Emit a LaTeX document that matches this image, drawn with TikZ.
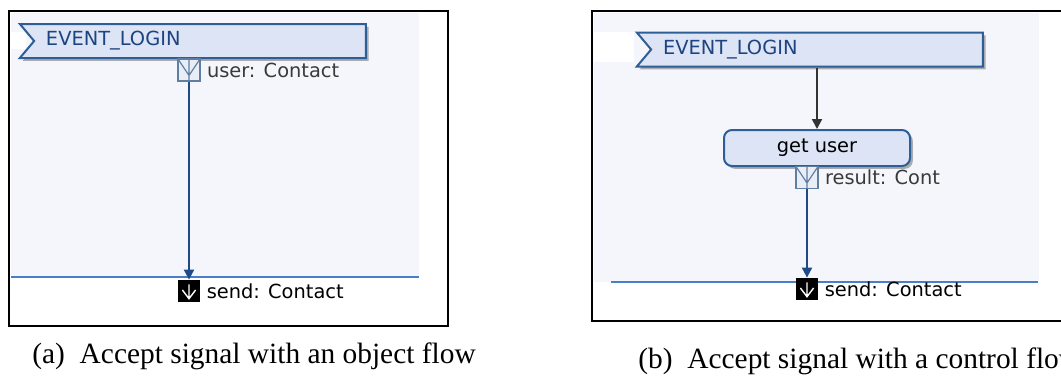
\documentclass[tikz,border=0pt]{standalone}
\usepackage{fontspec}
\setmainfont{Liberation Serif}
\newfontfamily\uifont{DejaVu Sans}
\usetikzlibrary{arrows.meta, positioning, calc, shapes.symbols, shadows}
\definecolor{canvasbg}{RGB}{244, 246, 251}
\definecolor{sigfill}{RGB}{221, 228, 245}
\definecolor{sigedge}{RGB}{46, 94, 150}
\definecolor{sigtext}{RGB}{28, 68, 128}
\definecolor{pinfill}{RGB}{232, 237, 246}
\definecolor{pinedge}{RGB}{96, 126, 162}
\definecolor{flowblue}{RGB}{30, 74, 134}
\definecolor{partblue}{RGB}{74, 126, 200}
\definecolor{labelgray}{RGB}{58, 58, 58}
\tikzset{
  >=Stealth,
  framebox/.style={draw=black, line width=1.1pt},
  sigbox/.style={shape=signal, signal from=west, signal to=nowhere, signal pointer angle=100,
    draw=sigedge, line width=1pt, fill=sigfill, minimum width=173pt, minimum height=17pt,
    inner sep=0pt, text width=154pt, align=left, text=sigtext,
    font=\uifont\fontsize{9.7}{11}\selectfont,
    drop shadow={shadow xshift=1.4pt, shadow yshift=-1.4pt, fill=black, opacity=0.3}},
  actbox/.style={rectangle, rounded corners=4pt, draw=sigedge, line width=1pt, fill=sigfill,
    minimum width=93pt, minimum height=18pt, inner sep=0pt,
    font=\uifont\fontsize{9.7}{11}\selectfont,
    drop shadow={shadow xshift=1.4pt, shadow yshift=-1.4pt, fill=black, opacity=0.3}},
  pinbox/.style={rectangle, draw=pinedge, fill=pinfill, line width=0.6pt, minimum size=11pt, inner sep=0pt,
    path picture={\draw[pinedge, line width=0.6pt]
      (path picture bounding box.north) -- (path picture bounding box.south)
      (path picture bounding box.north west) -- ($(path picture bounding box.south)!0.25!(path picture bounding box.north)$)
      -- (path picture bounding box.north east);}},
  sendpin/.style={rectangle, fill=black, minimum size=11pt, inner sep=0pt,
    path picture={\draw[white, line width=0.7pt]
      ($(path picture bounding box.north)!0.2!(path picture bounding box.south)$) -- ($(path picture bounding box.north)!0.85!(path picture bounding box.south)$)
      ($(path picture bounding box.west)!0.2!(path picture bounding box.east)+(0,0.5pt)$) -- ($(path picture bounding box.north)!0.85!(path picture bounding box.south)$)
      -- ($(path picture bounding box.east)!0.2!(path picture bounding box.west)+(0,0.5pt)$);}},
  pinlabel/.style={inner sep=0pt, text=labelgray, font=\uifont\fontsize{9.7}{11}\selectfont},
  sendlabel/.style={inner sep=0pt, text=black, font=\uifont\fontsize{9.7}{11}\selectfont},
  objflow/.style={-{Triangle[length=5pt, width=5pt]}, line width=1pt, flowblue},
  ctlflow/.style={-{Triangle[length=5pt, width=5pt]}, line width=1pt, black!80},
  partition/.style={line width=0.8pt, partblue},
  subcaption/.style={inner sep=0pt, anchor=base west, font=\fontsize{14.7}{17}\selectfont}
}

\begin{document}
\begin{tikzpicture}[x=0.5pt, y=-0.5pt]
    \useasboundingbox (0,0) rectangle (1061,376);

    % (a) accept signal, object flow
    \fill[canvasbg] (11,13) rectangle (419,277);
    \fill[white] (11,32) rectangle (26,49);
    \draw[partition] (11,277) -- (419,277);
    \node[sigbox] (evtA) at (200,41) {EVENT\_LOGIN};
    \node[pinbox] (userpin) at (189,70) {};
    \node[pinlabel, right=3pt of userpin] (userlbl) {user: Contact};
    \node[sendpin] (sendA) at (189,291) {};
    \node[sendlabel, right=3pt of sendA] (sendlblA) {send: Contact};
    \draw[objflow] (userpin.south) -- (sendA.north);
    \draw[framebox] (9,11) rectangle (448,326);
    \node[subcaption] (capA) at (32,363) {(a)\ \ Accept signal with an object flow};

    % (b) accept signal, control flow
    \fill[canvasbg] (594,13) rectangle (1039,282);
    \fill[white] (594,32) rectangle (634,62);
    \draw[partition] (611,282) -- (1038,282);
    \node[sigbox] (evtB) at (817,49.5) {EVENT\_LOGIN};
    \node[actbox] (getuser) at (817,148) {get user};
    \node[pinbox] (resultpin) at (807,177.5) {};
    \node[pinlabel, right=3pt of resultpin] (resultlbl) {result: Cont};
    \node[sendpin] (sendB) at (807,289) {};
    \node[sendlabel, right=3pt of sendB] (sendlblB) {send: Contact};
    \draw[ctlflow] (evtB.south) -- (getuser.north);
    \draw[objflow] (resultpin.south) -- (sendB.north);
    \draw[framebox] (592,11) rectangle (1075,321);
    \node[subcaption] (capB) at (638,368) {(b)\ \ Accept signal with a control flow};
\end{tikzpicture}
\end{document}
